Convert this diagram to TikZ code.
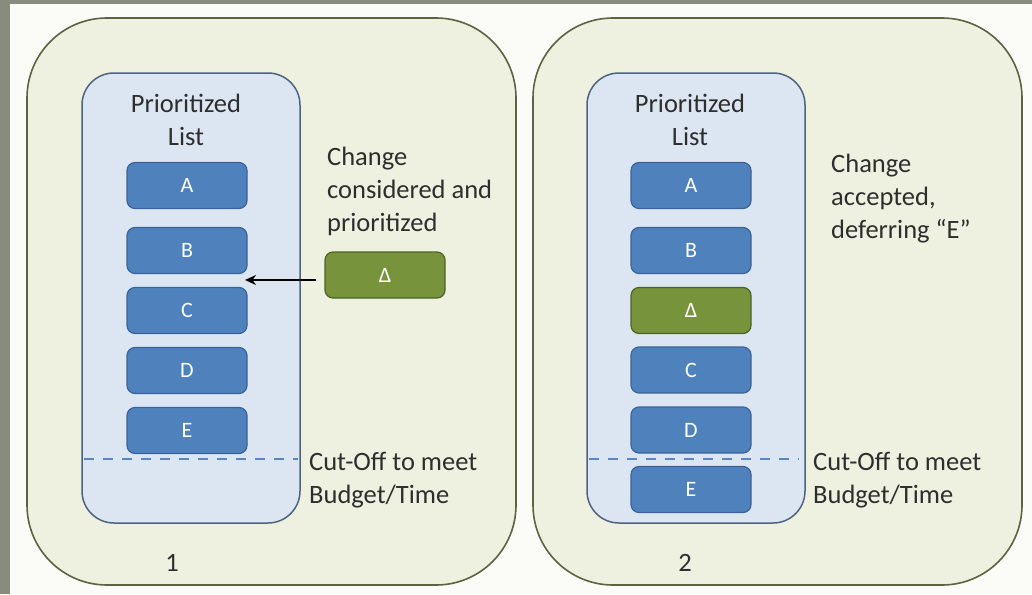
\documentclass[tikz,border=0pt]{standalone}
\usepackage{fontspec}
\setmainfont{Carlito}
\usetikzlibrary{arrows.meta}

\definecolor{frame}{HTML}{878C7C}
\definecolor{paper}{HTML}{FBFCF8}
\definecolor{cardfill}{HTML}{EEF1E0}
\definecolor{cardline}{HTML}{5B6340}
\definecolor{listfill}{HTML}{DCE6F2}
\definecolor{listline}{HTML}{4D6380}
\definecolor{itemfill}{HTML}{4F81BD}
\definecolor{itemline}{HTML}{3A639A}
\definecolor{dfill}{HTML}{77933C}
\definecolor{dline}{HTML}{4E6228}
\definecolor{textc}{HTML}{2E2E2E}
\definecolor{cutline}{HTML}{5A86BE}

\begin{document}
\begin{tikzpicture}[x=1pt,y=-1pt,
  card/.style={draw=cardline, line width=1.6pt, fill=cardfill, rounded corners=80pt},
  listbox/.style={draw=listline, line width=1.5pt, fill=listfill, rounded corners=32pt},
  item/.style={draw=itemline, fill=itemfill, line width=1.2pt, rounded corners=8pt,
    minimum width=120pt, minimum height=46pt, inner sep=0pt, text=white,
    font=\fontsize{22}{22}\selectfont},
  deltabox/.style={item, draw=dline, fill=dfill},
  lbl/.style={text=textc, font=\fontsize{26.5}{33}\selectfont, inner sep=0pt},
  cut/.style={draw=cutline, line width=1.5pt, dash pattern=on 10pt off 9pt},
  pointer/.style={draw=black, line width=2pt, -{Stealth[length=11pt,width=10pt]}}
]
% frame and page
\fill[frame] (0,0) rectangle (1032,594);
\fill[paper] (10,4) rectangle (1032,594);
\useasboundingbox (0,0) rectangle (1032,594);

% ---------- panel 1 ----------
\draw[card] (27,18) rectangle (516,585);
\draw[listbox] (82,73) rectangle (300,523);
\node[lbl, align=center] (t1) at (186,120) {Prioritized\\List};
\node[item] (a1) at (187,185.5) {A};
\node[item] (b1) at (187,250.5) {B};
\node[item] (c1) at (187,310.5) {C};
\node[item] (d1) at (187,370.5) {D};
\node[item] (e1) at (187,430.5) {E};
\draw[cut] (84,459) -- (298,459);
\node[lbl, align=left, anchor=west] (ch1) at (327,191) {Change\\considered and\\prioritized};
\node[deltabox] (dl1) at (385,275) {Δ};
\coordinate (gap1) at (245,280);
\draw[pointer, shorten <=8pt] (dl1.west |- gap1) -- (gap1);
\node[lbl, align=left, anchor=west] (co1) at (309,480) {Cut-Off to meet\\Budget/Time};
\node[lbl] (n1) at (172,563) {1};

% ---------- panel 2 ----------
\draw[card] (533,18) rectangle (1022,585);
\draw[listbox] (587,73) rectangle (805,523);
\node[lbl, align=center] (t2) at (690,120) {Prioritized\\List};
\node[item] (a2) at (691,185.5) {A};
\node[item] (b2) at (691,250.5) {B};
\node[deltabox] (dl2) at (691,310.5) {Δ};
\node[item] (c2) at (691,370) {C};
\node[item] (d2) at (691,430) {D};
\node[item] (e2) at (691,489.5) {E};
\draw[cut] (589,459) -- (799,459);
\node[lbl, align=left, anchor=west] (ch2) at (831,199) {Change\\accepted,\\deferring “E”};
\node[lbl, align=left, anchor=west] (co2) at (813,480) {Cut-Off to meet\\Budget/Time};
\node[lbl] (n2) at (685,563) {2};
\end{tikzpicture}
\end{document}
